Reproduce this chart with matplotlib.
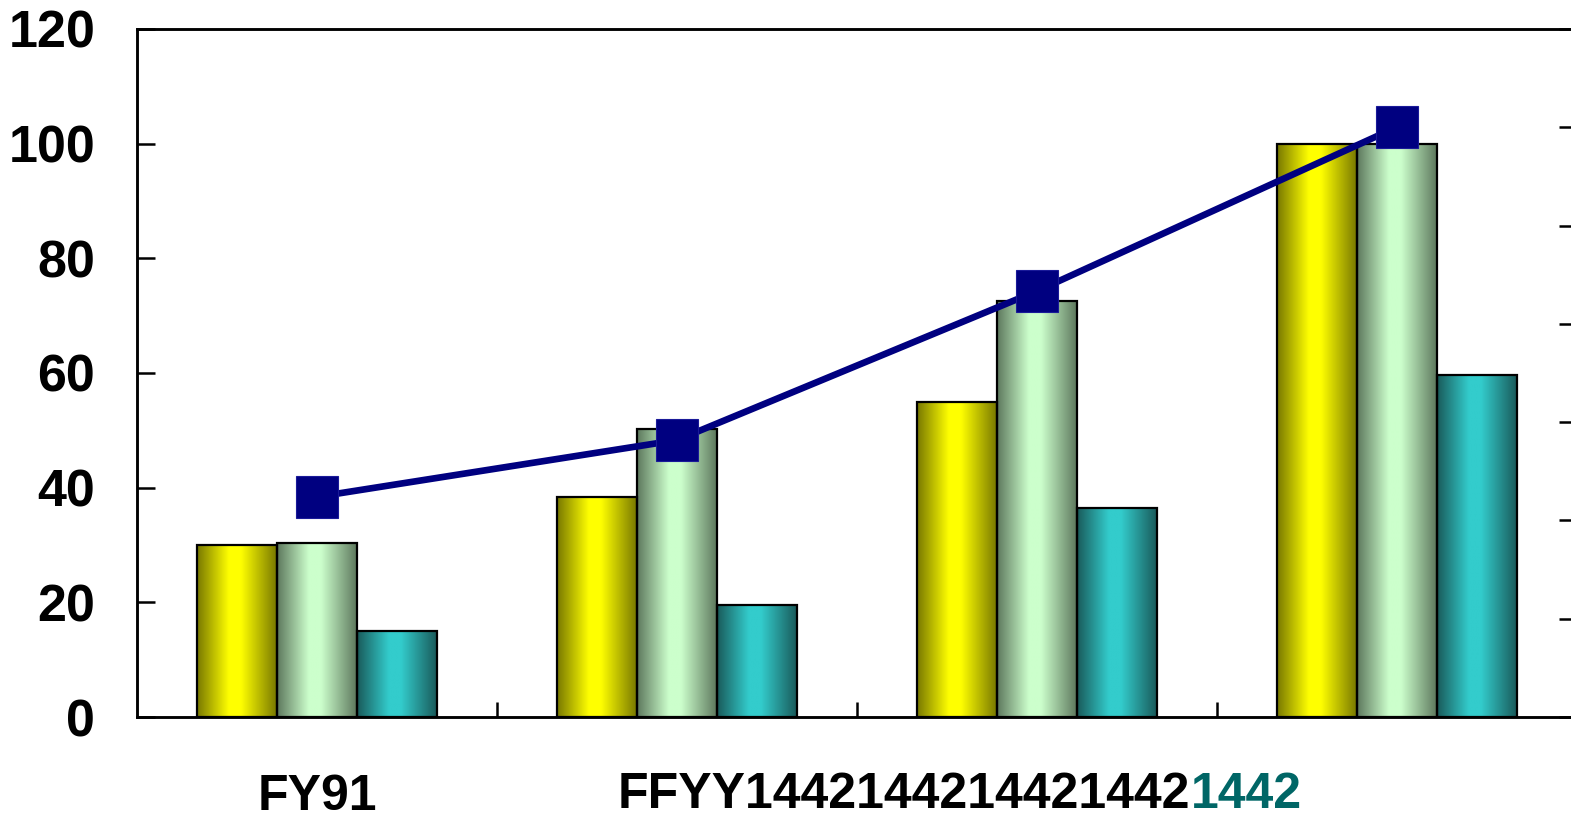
import numpy as np
import matplotlib.pyplot as plt
from matplotlib.colors import to_rgb

plt.rcParams['font.family'] = ['Liberation Sans', 'DejaVu Sans']
plt.rcParams['font.weight'] = 'bold'

# data
groups = ['FY91', '', '', '']
series_a = [30.0, 38.4, 54.9, 100.0]   # yellow
series_b = [30.4, 50.2, 72.6, 100.0]   # light green
series_c = [15.0, 19.5, 36.5, 59.7]    # teal
line_vals = [38.4, 48.3, 74.3, 102.9]
y_ticks = [0, 20, 40, 60, 80, 100, 120]

# (dark edge colour, bright centre colour)
grads = [('#7a7a00', '#ffff00'), ('#5f7a5f', '#ccffcc'), ('#1a5c5c', '#33cccc')]

W = 0.222
FSY = 37.5
FSX = 36
x = np.arange(len(groups))

fig = plt.figure(figsize=(15.71, 8.21), dpi=100)
ax = fig.add_axes([137/1571, 1 - 717/821, 1440/1571, 688/821])


def shade(dark, light, n=64):
    t = np.linspace(0, 1, n)
    f = np.where(t < 0.4, t/0.4, np.where(t < 0.55, 1.0, 1 - (t - 0.55)/0.45))
    d = np.array(to_rgb(dark))
    l = np.array(to_rgb(light))
    return (d[None, :] + (l - d)[None, :]*f[:, None])[None, :, :]


for k, vals in enumerate([series_a, series_b, series_c]):
    img = shade(*grads[k])
    for xi, v in zip(x, vals):
        x0 = xi + (k - 1)*W - W/2
        ax.imshow(img, extent=[x0, x0 + W, 0, v], aspect='auto', zorder=2,
                  interpolation='bilinear')
    ax.bar(x + (k - 1)*W, vals, W, facecolor='none', edgecolor='black',
           linewidth=1.6, zorder=3)

ax.plot(x, line_vals, color='#000080', linewidth=4.8, marker='s',
        markersize=30, markerfacecolor='#000080', markeredgecolor='#1a1a99',
        markeredgewidth=0.8, zorder=5, clip_on=False)

ax.set_xlim(-0.5, 3.5)
ax.set_ylim(0, 120)
ax.set_yticks(y_ticks)
ax.set_yticklabels([str(v) for v in y_ticks], fontsize=FSY, fontweight='bold')
ax.tick_params(axis='y', direction='in', length=13, width=1.8, pad=30)

ax.set_xticks([0.5, 1.5, 2.5])
ax.set_xticklabels([])
ax.set_xticks(x, minor=True)
ax.set_xticklabels(groups, minor=True, fontsize=FSX, fontweight='bold')
ax.tick_params(axis='x', which='major', direction='in', length=11, width=1.8)
ax.tick_params(axis='x', which='minor', length=0, pad=41)

for s in ax.spines.values():
    s.set_linewidth(1.8)

# overlapping garbled category label
t1 = ax.text(0.836, -0.08, 'FFYY1442144214421442', transform=ax.get_xaxis_transform(),
             fontsize=FSX, fontweight='bold', ha='left', va='top', color='black')
ax.annotate('1442', xy=(1, 0), xycoords=t1, ha='left', va='bottom',
            fontsize=FSX, fontweight='bold', color='#006666')

# secondary axis: ticks only
ax2 = ax.twinx()
ax2.set_ylim(0, 7)
ax2.set_yticks(range(8))
ax2.set_yticklabels([])
ax2.tick_params(axis='y', direction='in', length=13, width=1.8)
for s in ax2.spines.values():
    s.set_linewidth(1.8)

fig.savefig('out.png', dpi=100)
